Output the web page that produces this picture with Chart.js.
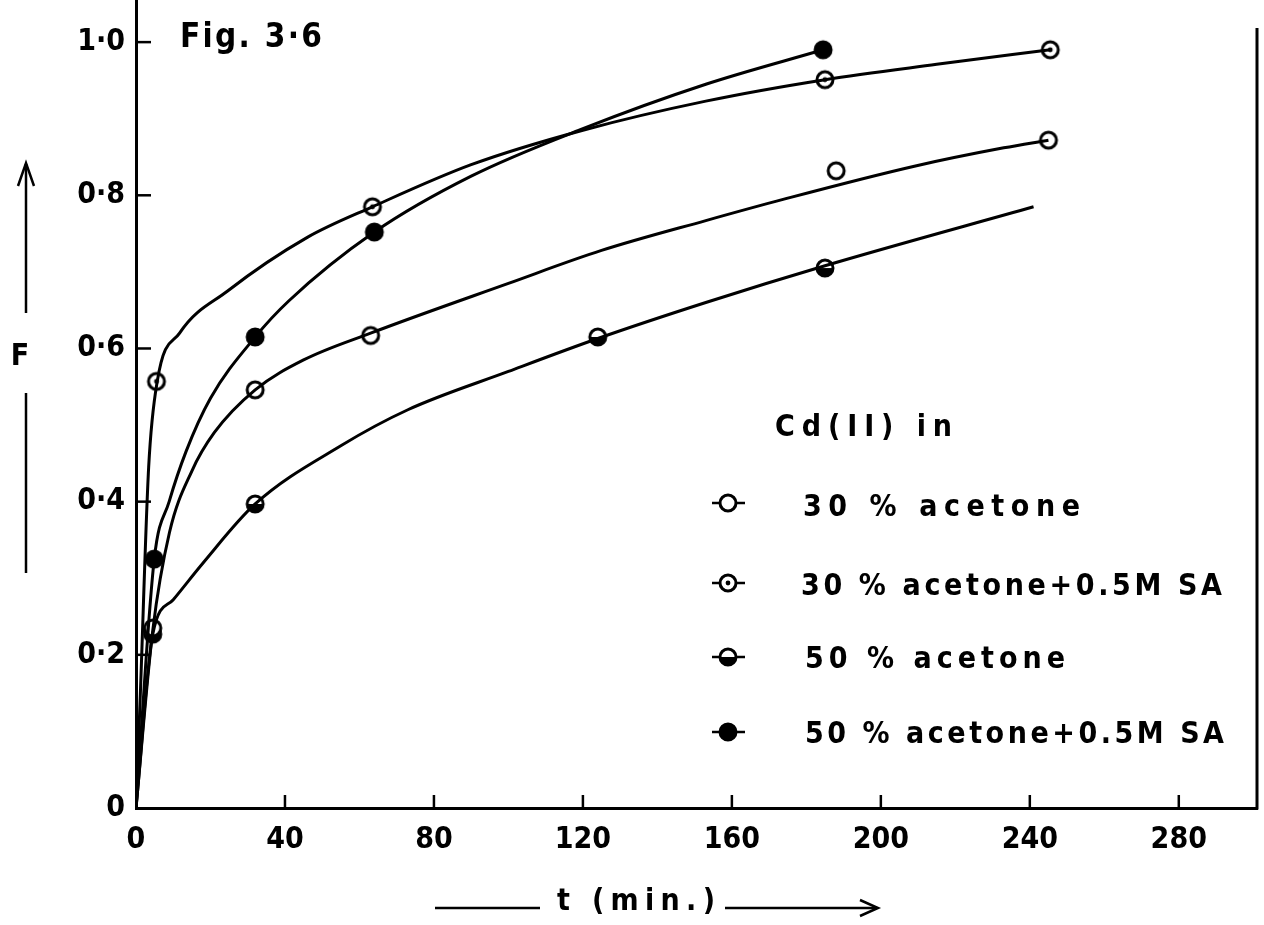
<!DOCTYPE html>
<html><head><meta charset="utf-8">
<script src="https://cdn.jsdelivr.net/npm/chart.js@4.4.1/dist/chart.umd.min.js"></script>
<style>html,body{margin:0;padding:0;background:#fff}#wrap{width:1264px;height:925px}</style>
</head><body><div id="wrap"><canvas id="c" width="1264" height="925"></canvas></div>
<script>
// ---- tick labels ----
const xTickValues = [0, 40, 80, 120, 160, 200, 240, 280];
const xTickLabels = ['0', '40', '80', '120', '160', '200', '240', '280'];
const yTickValues = [0, 0.2, 0.4, 0.6, 0.8, 1.0];
const yTickLabels = ['0', '0·2', '0·4', '0·6', '0·8', '1·0'];

// ---- series names ----
const seriesNames = ['30 % acetone', '30 % acetone+0.5M SA', '50 % acetone', '50 % acetone+0.5M SA'];

// ---- measured points (t in min, F) ----
const t30 = [4.5, 32, 63, 188, 245];
const f30 = [0.235, 0.546, 0.617, 0.832, 0.872];
const t30SA = [5.5, 63.5, 185, 245.5];
const f30SA = [0.557, 0.785, 0.951, 0.99];
const t50 = [4.5, 32, 124, 185];
const f50 = [0.227, 0.397, 0.615, 0.705];
const t50SA = [4.9, 32, 64, 184.5];
const f50SA = [0.325, 0.615, 0.752, 0.99];

// ---- smooth fitted curves ----
const curveT30 = [0, 4.5, 9, 15, 21, 32, 45, 63, 100, 125, 153, 174, 209, 233, 245];
const curveF30 = [0, 0.232, 0.36, 0.44, 0.49, 0.546, 0.585, 0.62, 0.685, 0.728, 0.767, 0.795, 0.838, 0.862, 0.872];
const curveT30SA = [0, 1.1, 3.4, 5.7, 11.7, 24.6, 46, 63.5, 90, 120, 153, 185, 215, 245.5];
const curveF30SA = [0, 0.14, 0.445, 0.557, 0.62, 0.675, 0.745, 0.785, 0.84, 0.885, 0.923, 0.951, 0.971, 0.99];
const curveT50 = [0, 4.5, 10, 18, 32, 55, 73, 100, 124, 153, 185, 241];
const curveF50 = [0, 0.227, 0.272, 0.32, 0.397, 0.473, 0.52, 0.57, 0.613, 0.66, 0.708, 0.785];
const curveT50SA = [0, 4.9, 8.9, 13.4, 20, 32, 41, 64, 90, 120, 153, 184.5];
const curveF50SA = [0, 0.325, 0.40, 0.465, 0.535, 0.615, 0.662, 0.752, 0.825, 0.887, 0.945, 0.99];

const markerKinds = ['open', 'dot', 'half', 'filled'];
const FONT = '"DejaVu Sans Condensed", "DejaVu Sans", sans-serif';

function makeMarker(kind) {
  const s = 26, c = document.createElement('canvas');
  c.width = s; c.height = s;
  const g = c.getContext('2d');
  const cx = s / 2, cy = s / 2, r = 8;
  g.beginPath(); g.arc(cx, cy, r, 0, 2 * Math.PI);
  g.fillStyle = kind === 'filled' ? '#000' : '#fff'; g.fill();
  if (kind === 'half') { g.beginPath(); g.arc(cx, cy, r, 0, Math.PI); g.closePath(); g.fillStyle = '#000'; g.fill(); }
  if (kind === 'dot') { g.beginPath(); g.arc(cx, cy, 2.4, 0, 2 * Math.PI); g.fillStyle = '#000'; g.fill(); }
  g.lineWidth = 3; g.strokeStyle = '#000';
  g.beginPath(); g.arc(cx, cy, r, 0, 2 * Math.PI); g.stroke();
  return c;
}
const markers = markerKinds.map(makeMarker);

const pts = (ts, fs) => ts.map((t, i) => ({ x: t, y: fs[i] }));
const curves = [[curveT30, curveF30], [curveT30SA, curveF30SA], [curveT50, curveF50], [curveT50SA, curveF50SA]];
const points = [[t30, f30], [t30SA, f30SA], [t50, f50], [t50SA, f50SA]];

const datasets = [];
curves.forEach((c, i) => datasets.push({
  label: seriesNames[i] + ' curve', data: pts(c[0], c[1]), showLine: true, pointRadius: 0,
  borderColor: '#000', borderWidth: 3, cubicInterpolationMode: 'monotone', fill: false
}));
points.forEach((p, i) => datasets.push({
  label: seriesNames[i], data: pts(p[0], p[1]), showLine: false, pointStyle: markers[i],
  pointRadius: 9, pointHoverRadius: 9
}));

function fitText(ctx, text, x, y, targetW) {
  ctx.letterSpacing = '0px';
  const w = ctx.measureText(text).width;
  const n = [...text].length;
  const ls = Math.max(0, (targetW - w) / (n - 1));
  ctx.letterSpacing = ls + 'px';
  ctx.fillText(text, x, y);
  ctx.letterSpacing = '0px';
}

const decor = {
  id: 'decor',
  afterDraw(chart) {
    const ctx = chart.ctx, xs = chart.scales.x, ys = chart.scales.y;
    ctx.save();
    ctx.strokeStyle = '#000'; ctx.fillStyle = '#000'; ctx.lineCap = 'butt';
    // inward ticks
    ctx.lineWidth = 2.5;
    yTickValues.forEach(v => { if (v === 0) return; const y = ys.getPixelForValue(v); ctx.beginPath(); ctx.moveTo(xs.left, y); ctx.lineTo(xs.left + 15, y); ctx.stroke(); });
    xTickValues.forEach(v => { if (v === 0) return; const x = xs.getPixelForValue(v); ctx.beginPath(); ctx.moveTo(x, ys.bottom); ctx.lineTo(x, ys.bottom - 13); ctx.stroke(); });
    // right frame
    ctx.lineWidth = 3;
    ctx.beginPath(); ctx.moveTo(xs.right, 28); ctx.lineTo(xs.right, ys.bottom + 1.5); ctx.stroke();
    // title
    ctx.font = 'bold 33px ' + FONT; ctx.textBaseline = 'alphabetic'; ctx.textAlign = 'left';
    fitText(ctx, 'Fig. 3·6', 180, 47, 142);
    // F label with arrow
    ctx.font = 'bold 30px ' + FONT; ctx.textAlign = 'center';
    ctx.fillText('F', 20, 365);
    ctx.lineWidth = 2.5;
    ctx.beginPath(); ctx.moveTo(26, 164); ctx.lineTo(26, 313); ctx.stroke();
    ctx.beginPath(); ctx.moveTo(18, 186); ctx.lineTo(26, 163); ctx.lineTo(34, 186); ctx.stroke();
    ctx.beginPath(); ctx.moveTo(26, 393); ctx.lineTo(26, 573); ctx.stroke();
    // x title with arrows
    ctx.textAlign = 'left';
    fitText(ctx, 't (min.)', 557, 910, 158);
    ctx.beginPath(); ctx.moveTo(435, 908); ctx.lineTo(540, 908); ctx.stroke();
    ctx.beginPath(); ctx.moveTo(725, 908); ctx.lineTo(877, 908); ctx.stroke();
    ctx.beginPath(); ctx.moveTo(860, 900); ctx.lineTo(878, 908); ctx.lineTo(860, 916); ctx.stroke();
    // legend
    ctx.font = 'bold 30px ' + FONT;
    fitText(ctx, 'Cd(II) in', 775, 436, 177);
    const rowsMarkY = [503, 583, 657, 732];
    const rowsTextY = [516, 595, 668, 743];
    const rowsTextX = [803, 801, 805, 805];
    const rowsTextW = [277, 421, 260, 419];
    seriesNames.forEach((name, i) => {
      const my = rowsMarkY[i];
      ctx.lineWidth = 2.5;
      ctx.beginPath(); ctx.moveTo(712, my); ctx.lineTo(745, my); ctx.stroke();
      ctx.drawImage(markers[i], 728 - 13, my - 13);
      fitText(ctx, name, rowsTextX[i], rowsTextY[i], rowsTextW[i]);
    });
    ctx.restore();
  }
};

new Chart(document.getElementById('c'), {
  type: 'scatter',
  data: { datasets },
  options: {
    responsive: false, animation: false, devicePixelRatio: 1,
    layout: { autoPadding: false, padding: { top: 0, right: 7, left: 0, bottom: 0 } },
    plugins: { legend: { display: false }, tooltip: { enabled: false }, title: { display: false } },
    scales: {
      x: {
        type: 'linear', min: 0, max: 301,
        afterBuildTicks: s => { s.ticks = xTickValues.map(v => ({ value: v })); },
        afterFit: s => { s.height = 117; s.paddingLeft = 0; s.paddingRight = 0; s.paddingTop = 0; s.paddingBottom = 0; },
        ticks: { callback: (v, i) => xTickLabels[i], font: { family: FONT, size: 30, weight: 'bold' }, color: '#000', padding: 14, maxRotation: 0, autoSkip: false },
        grid: { display: false, drawTicks: false },
        border: { display: true, color: '#000', width: 3 }
      },
      y: {
        type: 'linear', min: 0, max: 1.055,
        afterBuildTicks: s => { s.ticks = yTickValues.map(v => ({ value: v })); },
        afterFit: s => { s.width = 136; s.paddingTop = 0; s.paddingBottom = 0; s.paddingLeft = 0; s.paddingRight = 0; },
        ticks: { callback: (v, i) => yTickLabels[i], font: { family: FONT, size: 30, weight: 'bold' }, color: '#000', padding: 11, autoSkip: false },
        grid: { display: false, drawTicks: false },
        border: { display: true, color: '#000', width: 3 }
      }
    }
  },
  plugins: [decor]
});
</script>
</body></html>
